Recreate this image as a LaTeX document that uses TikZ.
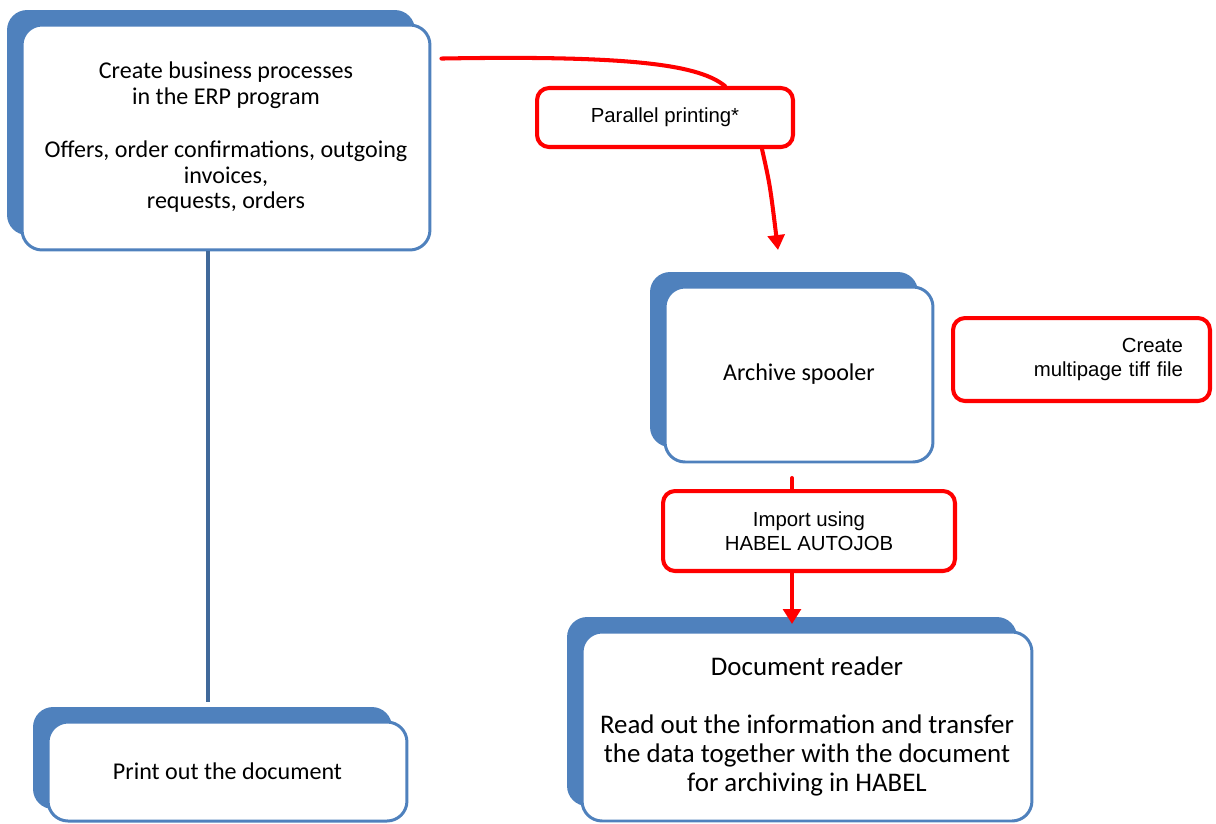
\documentclass[tikz,border=0pt]{standalone}
\usepackage{fontspec}
\setmainfont{Carlito}
\newfontfamily\arialfont{Liberation Sans}
\usetikzlibrary{shadows}
\usetikzlibrary{calc}
\usetikzlibrary{arrows.meta}
\definecolor{boxblue}{HTML}{4F81BD}
\definecolor{lineblue}{HTML}{41699A}
\definecolor{flowred}{HTML}{FF0000}

\begin{document}
\begin{tikzpicture}
     [x=0.02cm,y=-0.02cm,line cap=round,
      % Styles
        process box/.style={draw=boxblue,line width=1.7pt,fill=white,rounded corners=0.4cm,
          align=center,inner sep=0pt,font=\fontsize{13.7}{14.5}\selectfont,
          general shadow={fill=boxblue,shadow xshift=-0.3cm,shadow yshift=0.3cm}},
        red note/.style={draw=flowred,line width=2.3pt,fill=white,rounded corners=0.24cm,
          align=center,inner sep=0pt,font=\arialfont\fontsize{11.6}{13.6}\selectfont},
        red flow/.style={draw=flowred,line width=2.3pt},
        blue link/.style={draw=lineblue,line width=2.3pt,line cap=butt}]
    \useasboundingbox (0,0) rectangle (1216,823);
    \begin{scope}[process box/.append style=]
      \node[process box,minimum width=8.16cm,minimum height=4.5cm] (erp) at (226,137.5)
        {Create business processes\\in the ERP program\\[16pt]
         Offers, order confirmations, outgoing\\invoices,\\requests, orders};
      \node[process box,minimum width=5.36cm,minimum height=3.5cm] (spool) at (799,374.5)
        {Archive spooler};
      \node[process box,minimum width=9cm,minimum height=3.78cm,
            font=\fontsize{15.3}{16.4}\selectfont] (reader) at (807,726.5)
        {Document reader\\[16.4pt]
         Read out the information and transfer\\the data together with the document\\for archiving in HABEL};
      \node[process box,minimum width=7.18cm,minimum height=1.98cm,
            general shadow={fill=boxblue,shadow xshift=-0.3cm,shadow yshift=0.24cm}] (print) at (227.5,771.5)
        {Print out the document};
    \end{scope}
    % red notes
    \node[red note,minimum width=5.12cm,minimum height=1.18cm] (parallel) at (665,117.5) {Parallel printing*};
    \node[red note,minimum width=5.14cm,minimum height=1.66cm,text width=4.06cm,
          inner xsep=0.54cm,align=right] (tiff) at (1081.5,359.5) {Create\\multipage tiff file};
    \node[red note,minimum width=5.84cm,minimum height=1.6cm] (import) at (809,531)
      {Import using\\HABEL AUTOJOB};
    % connectors
    \coordinate (spool in) at (778,250);
    \draw[red flow] ($(erp.north east)+(10,35)$) .. controls (640,55) and (700,66) .. ($(parallel.north)+(60,0)$);
    \draw[red flow,-{Triangle[length=8.5pt,width=9.5pt]}] ($(parallel.south)+(97,0)$)
      .. controls (770,185) .. (spool in);
    \draw[red flow] ($(import.north)+(-17,0)$) -- ++(0,-11);
    \draw[red flow,-{Triangle[length=8.5pt,width=10pt]}] ($(import.south)+(-17,0)$) -- ++(0,51);
    \draw[blue link] ($(erp.south)+(-18,0)$) -- ($(print.north)+(-19.5,-19)$);
  \end{tikzpicture}
\end{document}
